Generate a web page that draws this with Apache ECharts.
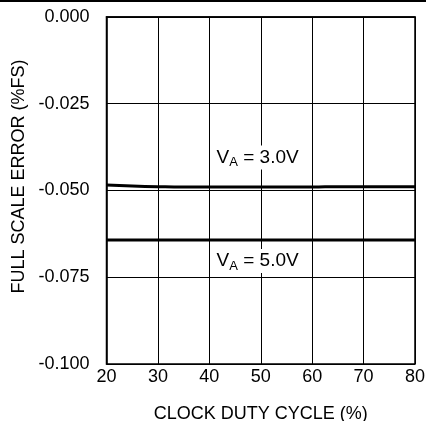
<!DOCTYPE html>
<html><head><meta charset="utf-8">
<script src="https://cdn.jsdelivr.net/npm/echarts@6/dist/echarts.min.js"></script>
<style>html,body{margin:0;padding:0;background:#fff}#c{width:426px;height:421px}</style>
</head><body><div id="c"></div>
<script>
const dutyCycle = [20, 25, 30, 35, 40, 45, 50, 55, 60, 65, 70, 75, 80];
const va30 = [-0.0484, -0.0487, -0.0489, -0.0490, -0.0490, -0.0490, -0.0490, -0.0490, -0.0490, -0.0489, -0.0489, -0.0489, -0.0489];
const va50 = [-0.0643, -0.0643, -0.0643, -0.0643, -0.0643, -0.0643, -0.0643, -0.0643, -0.0643, -0.0643, -0.0643, -0.0643, -0.0643];
const labelPos30 = [49.4, -0.0405];
const labelPos50 = [49.4, -0.0703];
const xTicks = [20, 30, 40, 50, 60, 70, 80];
const yTicks = ['0.000', '-0.025', '-0.050', '-0.075', '-0.100'];

const font = 'Liberation Sans, Arial, sans-serif';
const chart = echarts.init(document.getElementById('c'));
function lbl(txt) {
  return {
    show: true,
    position: 'inside',
    formatter: '{v|V}{s|A}{v| = ' + txt + '}',
    rich: {
      v: { fontSize: 19, fontFamily: font, color: '#000', lineHeight: 23 },
      s: { fontSize: 13, fontFamily: font, color: '#000', lineHeight: 13, verticalAlign: 'bottom' }
    }
  };
}
chart.setOption({
  animation: false,
  backgroundColor: '#fff',
  grid: { left: 106.5, right: 11, top: 17, bottom: 57, outerBoundsMode: 'none', containLabel: false, show: true, borderColor: '#000', borderWidth: 1.5, backgroundColor: 'transparent' },
  graphic: [{ type: 'line', shape: { x1: 0, y1: 1, x2: 426, y2: 1 }, style: { stroke: '#000', lineWidth: 2 } }],
  xAxis: {
    type: 'value', min: 20, max: 80, interval: 10,
    name: 'CLOCK DUTY CYCLE (%)', nameLocation: 'middle', nameGap: 41,
    nameTextStyle: { fontSize: 18, fontFamily: font, color: '#000' },
    axisLine: { show: true, lineStyle: { color: '#000', width: 1.5 } },
    axisTick: { show: false },
    axisLabel: { fontSize: 18, fontFamily: font, color: '#000', margin: 4, formatter: v => xTicks.includes(v) ? String(v) : '' },
    splitLine: { show: true, lineStyle: { color: '#000', width: 1 } }
  },
  yAxis: {
    type: 'value', min: -0.1, max: 0, interval: 0.025,
    name: 'FULL SCALE ERROR (%FS)', nameLocation: 'middle', nameGap: 78, nameRotate: 90,
    nameTextStyle: { fontSize: 18, fontFamily: font, color: '#000', padding: [0, 0, 0, 28] },
    axisLine: { show: true, lineStyle: { color: '#000', width: 1.5 } },
    axisTick: { show: false },
    axisLabel: { fontSize: 18, fontFamily: font, color: '#000', margin: 17, formatter: (v) => yTicks[Math.round(-v / 0.025)] },
    splitLine: { show: true, lineStyle: { color: '#000', width: 1 } }
  },
  series: [
    { type: 'line', data: dutyCycle.map((x, i) => [x, va30[i]]), symbol: 'none', smooth: true,
      lineStyle: { color: '#000', width: 3 } },
    { type: 'line', data: dutyCycle.map((x, i) => [x, va50[i]]), symbol: 'none', smooth: true,
      lineStyle: { color: '#000', width: 3 } },
    { type: 'scatter', z: 10, silent: true, symbol: 'rect', symbolSize: [90, 24],
      itemStyle: { color: '#ffffff', opacity: 1 },
      data: [
        { value: labelPos30, label: lbl('3.0V') },
        { value: labelPos50, label: lbl('5.0V') }
      ] }
  ]
});
</script></body></html>
